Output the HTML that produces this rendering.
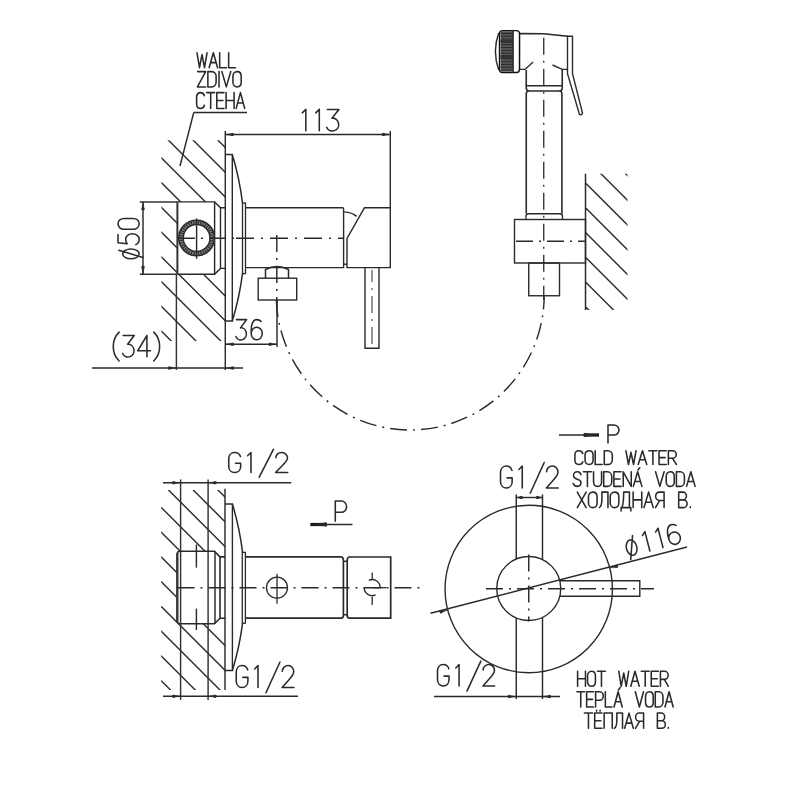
<!DOCTYPE html>
<html><head><meta charset="utf-8"><style>
html,body{margin:0;padding:0;background:#fff;width:800px;height:800px;overflow:hidden}
svg{display:block}
text{font-family:"Liberation Sans", sans-serif}
</style></head><body>
<svg width="800" height="800" viewBox="0 0 800 800" stroke-linecap="butt"><defs><clipPath id="h1"><path clip-rule="evenodd" d="M161.5,140.25 H225.3 V341 H161.5 Z M177.4,201.9 H225.3 V274.2 H177.4 Z"/></clipPath><clipPath id="h2"><rect x="586" y="173.75" width="41.5" height="136.25"/></clipPath><clipPath id="h3"><path clip-rule="evenodd" d="M161.25,490 H225 V690 H161.25 Z M177.3,551.25 H225 V623.8 H177.3 Z"/></clipPath></defs><g clip-path="url(#h1)" stroke="#2a2a2a" stroke-width="1.4"><line x1="150" y1="47.50" x2="240" y2="137.50"/><line x1="150" y1="72.25" x2="240" y2="162.25"/><line x1="150" y1="97.00" x2="240" y2="187.00"/><line x1="150" y1="121.75" x2="240" y2="211.75"/><line x1="150" y1="146.50" x2="240" y2="236.50"/><line x1="150" y1="171.25" x2="240" y2="261.25"/><line x1="150" y1="196.00" x2="240" y2="286.00"/><line x1="150" y1="220.75" x2="240" y2="310.75"/><line x1="150" y1="245.50" x2="240" y2="335.50"/><line x1="150" y1="270.25" x2="240" y2="360.25"/><line x1="150" y1="295.00" x2="240" y2="385.00"/><line x1="150" y1="319.75" x2="240" y2="409.75"/></g>
<g transform="translate(197.00,52.80) scale(1.3185,1.4900)" fill="none" stroke="#2a2a2a" stroke-width="1.55" stroke-linecap="round" stroke-linejoin="round"><path vector-effect="non-scaling-stroke" transform="translate(0.00,0)" d="M0,0 L1.9,10 L3.8,1.2 L5.7,10 L7.6,0"/><path vector-effect="non-scaling-stroke" transform="translate(9.20,0)" d="M0,10 L3.2,0 L6.4,10 M1.1,6.6 H5.3"/><path vector-effect="non-scaling-stroke" transform="translate(17.20,0)" d="M0,0 V10 H5.2"/><path vector-effect="non-scaling-stroke" transform="translate(24.00,0)" d="M0,0 V10 H5.2"/></g>
<g transform="translate(197.40,71.60) scale(1.3774,1.5300)" fill="none" stroke="#2a2a2a" stroke-width="1.55" stroke-linecap="round" stroke-linejoin="round"><path vector-effect="non-scaling-stroke" transform="translate(0.00,0)" d="M0.2,0 H6 L0,10 H6"/><path vector-effect="non-scaling-stroke" transform="translate(7.60,0)" d="M0,0 V10 H2.8 A3.2,3.2 0 0 0 6,6.8 V3.2 A3.2,3.2 0 0 0 2.8,0 Z"/><path vector-effect="non-scaling-stroke" transform="translate(15.20,0)" d="M0.5,0 V10"/><path vector-effect="non-scaling-stroke" transform="translate(17.80,0)" d="M0,0 L3.2,10 L6.4,0"/><path vector-effect="non-scaling-stroke" transform="translate(25.80,0)" d="M0,3 C0,1.3 1.2,0 3,0 C4.8,0 6,1.3 6,3 V7 C6,8.7 4.8,10 3,10 C1.2,10 0,8.7 0,7 Z"/></g>
<g transform="translate(196.60,92.60) scale(1.3287,1.5800)" fill="none" stroke="#2a2a2a" stroke-width="1.55" stroke-linecap="round" stroke-linejoin="round"><path vector-effect="non-scaling-stroke" transform="translate(0.00,0)" d="M5.9,2 C5.5,0.8 4.4,0 3,0 C1.2,0 0,1.3 0,3 V7 C0,8.7 1.2,10 3,10 C4.4,10 5.5,9.2 5.9,8"/><path vector-effect="non-scaling-stroke" transform="translate(7.60,0)" d="M0,0 H6 M3,0 V10"/><path vector-effect="non-scaling-stroke" transform="translate(15.20,0)" d="M5.4,0 H0 V10 H5.4 M0,5 H4.6"/><path vector-effect="non-scaling-stroke" transform="translate(22.20,0)" d="M0,0 V10 M6,0 V10 M0,5 H6"/><path vector-effect="non-scaling-stroke" transform="translate(29.80,0)" d="M0,10 L3.2,0 L6.4,10 M1.1,6.6 H5.3"/></g>
<line x1="193.75" y1="112.50" x2="247.00" y2="112.50" stroke="#2a2a2a" stroke-width="1.45" />
<line x1="193.75" y1="112.50" x2="180.00" y2="166.00" stroke="#2a2a2a" stroke-width="1.45" />
<line x1="225.30" y1="131.00" x2="225.30" y2="370.00" stroke="#2a2a2a" stroke-width="1.45" />
<path d="M225.3,154.5 H232.3 V321 H225.3" stroke="#2a2a2a" stroke-width="1.4" fill="none" />
<path d="M232.3,154.5 A287.9,287.9 0 0 1 242.49,203" stroke="#2a2a2a" stroke-width="1.5" fill="none" />
<path d="M242.49,273.6 A287.9,287.9 0 0 1 232.3,321" stroke="#2a2a2a" stroke-width="1.5" fill="none" />
<rect x="242.50" y="203.00" width="3.00" height="70.60" rx="0" stroke="#2a2a2a" stroke-width="1.3" fill="none"/>
<path d="M245.5,207.8 H342.5 Q343.6,207.8 343.6,209 V267.6 H245.5" stroke="#2a2a2a" stroke-width="1.4" fill="none" />
<path d="M344.2,211.9 Q352,212.5 356.6,216.4" stroke="#2a2a2a" stroke-width="1.45" fill="none" />
<path d="M364.4,207.8 L347,238.4 V267.6 H390.3 V207.8 Z" stroke="#2a2a2a" stroke-width="1.4" fill="none" />
<line x1="343.60" y1="264.20" x2="347.00" y2="264.20" stroke="#2a2a2a" stroke-width="1.45" />
<line x1="390.30" y1="131.00" x2="390.30" y2="207.80" stroke="#2a2a2a" stroke-width="1.45" />
<path d="M365,267.6 V348.25 H379 V267.6" stroke="#2a2a2a" stroke-width="1.4" fill="none" />
<line x1="372.00" y1="270.00" x2="372.00" y2="346.00" stroke="#2a2a2a" stroke-width="1.0" stroke-dasharray="17 6 2 6" stroke-dashoffset="5"/>
<path d="M265.5,278.2 V269.5 Q277,263.5 288.5,269.5 V278.2" stroke="#2a2a2a" stroke-width="1.5" fill="none" />
<rect x="258.20" y="278.20" width="38.50" height="21.80" rx="0" stroke="#2a2a2a" stroke-width="1.4" fill="none"/>
<path d="M177.4,201.9 H214.6 L220.5,207.75 H225.3 M220.5,207.75 V268.4 M177.4,274.2 H214.6 L220.5,268.4 H225.3" stroke="#2a2a2a" stroke-width="1.4" fill="none" />
<line x1="177.40" y1="201.90" x2="177.40" y2="274.20" stroke="#333" stroke-width="2.0" />
<line x1="214.60" y1="201.90" x2="214.60" y2="274.20" stroke="#2a2a2a" stroke-width="1.45" />
<circle cx="196.60" cy="238.00" r="15.60" stroke="#8a8a8a" stroke-width="3.6" fill="none" />
<circle cx="196.60" cy="238.00" r="15.60" stroke="#333" stroke-width="3.6" fill="none" stroke-dasharray="1.3 1.1"/>
<circle cx="196.60" cy="238.00" r="17.80" stroke="#2a2a2a" stroke-width="1.6" fill="none" />
<circle cx="196.60" cy="238.00" r="13.40" stroke="#2a2a2a" stroke-width="1.5" fill="none" />
<line x1="196.60" y1="218.40" x2="196.60" y2="258.80" stroke="#2a2a2a" stroke-width="1.45" />
<line x1="236.00" y1="238.30" x2="344.00" y2="238.30" stroke="#2a2a2a" stroke-width="1.45" stroke-dasharray="18 7 2 7"/>
<line x1="178.00" y1="238.30" x2="236.00" y2="238.30" stroke="#2a2a2a" stroke-width="1.45" stroke-dasharray="17 6 2 6" stroke-dashoffset="0"/>
<line x1="276.80" y1="235.00" x2="276.80" y2="305.00" stroke="#2a2a2a" stroke-width="1.45" stroke-dasharray="17 6 2 6" stroke-dashoffset="0"/>
<line x1="139.75" y1="201.90" x2="177.40" y2="201.90" stroke="#333" stroke-width="1.45" />
<line x1="139.75" y1="274.20" x2="177.40" y2="274.20" stroke="#333" stroke-width="1.45" />
<line x1="143.00" y1="201.90" x2="143.00" y2="274.20" stroke="#2a2a2a" stroke-width="1.45" />
<path d="M143.00,201.90 L144.30,209.90 L141.70,209.90 Z" fill="#2a2a2a" stroke="#2a2a2a" stroke-width="0.4"/>
<circle cx="143.00" cy="208.70" r="1.5" fill="#2a2a2a"/>
<path d="M143.00,274.20 L141.70,266.20 L144.30,266.20 Z" fill="#2a2a2a" stroke="#2a2a2a" stroke-width="0.4"/>
<circle cx="143.00" cy="267.40" r="1.5" fill="#2a2a2a"/>
<g transform="rotate(-90.00 139.20 258.80) translate(139.20,237.60) scale(1.8198,2.1200)" fill="none" stroke="#2a2a2a" stroke-width="1.55" stroke-linecap="round" stroke-linejoin="round"><path vector-effect="non-scaling-stroke" transform="translate(0.00,0)" d="M2.7,2.2 A2.7,3.9 0 1 0 2.7,10 A2.7,3.9 0 1 0 2.7,2.2 M4.7,0.4 L0.7,11.8"/><path vector-effect="non-scaling-stroke" transform="translate(7.80,0)" d="M5.6,0 H1 L0.5,4.4 C1.2,3.8 2,3.6 3,3.6 A3,3.2 0 0 1 3,10 C1.6,10 0.6,9.4 0,8.4"/><path vector-effect="non-scaling-stroke" transform="translate(16.20,0)" d="M0,3 C0,1.3 1.2,0 3,0 C4.8,0 6,1.3 6,3 V7 C6,8.7 4.8,10 3,10 C1.2,10 0,8.7 0,7 Z"/></g>
<line x1="225.30" y1="134.50" x2="390.30" y2="134.50" stroke="#2a2a2a" stroke-width="1.45" />
<path d="M225.30,134.50 L233.30,133.20 L233.30,135.80 Z" fill="#2a2a2a" stroke="#2a2a2a" stroke-width="0.4"/>
<circle cx="232.10" cy="134.50" r="1.5" fill="#2a2a2a"/>
<path d="M390.30,134.50 L382.30,135.80 L382.30,133.20 Z" fill="#2a2a2a" stroke="#2a2a2a" stroke-width="0.4"/>
<circle cx="383.50" cy="134.50" r="1.5" fill="#2a2a2a"/>
<g transform="translate(299.50,109.40) scale(2.1064,2.1350)" fill="none" stroke="#2a2a2a" stroke-width="1.55" stroke-linecap="round" stroke-linejoin="round"><path vector-effect="non-scaling-stroke" transform="translate(0.00,0)" d="M1.3,1.6 L3,0 V10"/><path vector-effect="non-scaling-stroke" transform="translate(6.40,0)" d="M1.3,1.6 L3,0 V10"/><path vector-effect="non-scaling-stroke" transform="translate(12.80,0)" d="M0.4,0 H5.9 L2.6,4.1 A3,3 0 1 1 0.1,8.4"/></g>
<line x1="225.50" y1="344.20" x2="277.00" y2="344.20" stroke="#2a2a2a" stroke-width="1.45" />
<path d="M225.50,344.20 L233.50,342.90 L233.50,345.50 Z" fill="#2a2a2a" stroke="#2a2a2a" stroke-width="0.4"/>
<circle cx="232.30" cy="344.20" r="1.5" fill="#2a2a2a"/>
<path d="M277.00,344.20 L269.00,345.50 L269.00,342.90 Z" fill="#2a2a2a" stroke="#2a2a2a" stroke-width="0.4"/>
<circle cx="270.20" cy="344.20" r="1.5" fill="#2a2a2a"/>
<line x1="277.00" y1="300.00" x2="277.00" y2="347.00" stroke="#2a2a2a" stroke-width="1.45" />
<g transform="translate(235.70,319.60) scale(1.8438,2.0150)" fill="none" stroke="#2a2a2a" stroke-width="1.55" stroke-linecap="round" stroke-linejoin="round"><path vector-effect="non-scaling-stroke" transform="translate(0.00,0)" d="M0.4,0 H5.9 L2.6,4.1 A3,3 0 1 1 0.1,8.4"/><path vector-effect="non-scaling-stroke" transform="translate(8.40,0)" d="M5.4,0.9 C4.8,0.3 4,0 3,0 C1,0 0,2.2 0,5.5 V6.9 A3,3.1 0 0 0 6,6.9 A3,3.1 0 0 0 0,6.9"/></g>
<line x1="92.00" y1="368.00" x2="243.00" y2="368.00" stroke="#2a2a2a" stroke-width="1.45" />
<path d="M176.40,368.00 L168.40,369.30 L168.40,366.70 Z" fill="#2a2a2a" stroke="#2a2a2a" stroke-width="0.4"/>
<circle cx="169.60" cy="368.00" r="1.5" fill="#2a2a2a"/>
<path d="M225.60,368.00 L233.60,366.70 L233.60,369.30 Z" fill="#2a2a2a" stroke="#2a2a2a" stroke-width="0.4"/>
<circle cx="232.40" cy="368.00" r="1.5" fill="#2a2a2a"/>
<line x1="176.40" y1="274.20" x2="176.40" y2="370.00" stroke="#333" stroke-width="1.45" />
<g transform="translate(113.10,335.50) scale(2.0129,2.1250)" fill="none" stroke="#2a2a2a" stroke-width="1.55" stroke-linecap="round" stroke-linejoin="round"><path vector-effect="non-scaling-stroke" transform="translate(0.00,0)" d="M3,-1.6 C-0.9,2 -0.9,8.4 3,12"/><path vector-effect="non-scaling-stroke" transform="translate(4.60,0)" d="M0.4,0 H5.9 L2.6,4.1 A3,3 0 1 1 0.1,8.4"/><path vector-effect="non-scaling-stroke" transform="translate(12.20,0)" d="M4.6,10 V0 L0,7.2 H6.4"/><path vector-effect="non-scaling-stroke" transform="translate(20.20,0)" d="M0,-1.6 C3.9,2 3.9,8.4 0,12"/></g>
<path d="M276.3,300 A134,135 0 0 0 544.2,296.5" stroke="#2a2a2a" stroke-width="1.4" fill="none" stroke-dasharray="17 6 2 6"/>
<g clip-path="url(#h2)" stroke="#2a2a2a" stroke-width="1.4"><line x1="570" y1="93.25" x2="640" y2="163.25"/><line x1="570" y1="118.00" x2="640" y2="188.00"/><line x1="570" y1="142.75" x2="640" y2="212.75"/><line x1="570" y1="167.50" x2="640" y2="237.50"/><line x1="570" y1="192.25" x2="640" y2="262.25"/><line x1="570" y1="217.00" x2="640" y2="287.00"/><line x1="570" y1="241.75" x2="640" y2="311.75"/><line x1="570" y1="266.50" x2="640" y2="336.50"/><line x1="570" y1="291.25" x2="640" y2="361.25"/></g>
<line x1="585.50" y1="173.75" x2="585.50" y2="310.00" stroke="#2a2a2a" stroke-width="1.5" />
<rect x="514.50" y="219.50" width="71.00" height="43.50" rx="0" stroke="#2a2a2a" stroke-width="1.4" fill="none"/>
<line x1="516.00" y1="241.25" x2="585.00" y2="241.25" stroke="#2a2a2a" stroke-width="1.45" stroke-dasharray="17 6 2 6" stroke-dashoffset="0"/>
<rect x="528.75" y="263.00" width="30.75" height="32.75" rx="0" stroke="#2a2a2a" stroke-width="1.4" fill="none"/>
<path d="M526.25,94 Q526.25,91.2 528.6,91 M526.25,94 V213.75 M561.9,94 Q561.9,91.2 559.6,91 M561.9,94 V213.75" stroke="#2a2a2a" stroke-width="1.6" fill="none" />
<path d="M526,219.5 V216 Q526,213.75 529,213.75 H559.5 Q562.5,213.75 562.5,216 V219.5" stroke="#2a2a2a" stroke-width="1.3" fill="none" />
<path d="M526.25,85.75 H562.25 V88 Q562.25,91 559,91 H529.5 Q526.25,91 526.25,88 Z" stroke="#2a2a2a" stroke-width="1.6" fill="none" />
<path d="M526.25,70 V85.75 M562.25,69.4 V85.75" stroke="#2a2a2a" stroke-width="1.6" fill="none" />
<path d="M519.4,33.5 L543.75,33.8 L567.5,36.25 V69.4 H562.25 L552.5,65 M519.4,33.5 V69.4 H525 L533.1,61.9" stroke="#2a2a2a" stroke-width="1.4" fill="none" />
<rect x="499.5" y="30.6" width="20" height="41.9" rx="3" fill="#fff" stroke="#111" stroke-width="1.4"/>
<rect x="500.6" y="31.6" width="12.5" height="40" fill="#777"/>
<g stroke="#222" stroke-width="0.9"><line x1="500.6" y1="32.00" x2="513.1" y2="32.00"/><line x1="500.6" y1="33.55" x2="513.1" y2="33.55"/><line x1="500.6" y1="35.10" x2="513.1" y2="35.10"/><line x1="500.6" y1="36.65" x2="513.1" y2="36.65"/><line x1="500.6" y1="38.20" x2="513.1" y2="38.20"/><line x1="500.6" y1="39.75" x2="513.1" y2="39.75"/><line x1="500.6" y1="41.30" x2="513.1" y2="41.30"/><line x1="500.6" y1="42.85" x2="513.1" y2="42.85"/><line x1="500.6" y1="44.40" x2="513.1" y2="44.40"/><line x1="500.6" y1="45.95" x2="513.1" y2="45.95"/><line x1="500.6" y1="47.50" x2="513.1" y2="47.50"/><line x1="500.6" y1="49.05" x2="513.1" y2="49.05"/><line x1="500.6" y1="50.60" x2="513.1" y2="50.60"/><line x1="500.6" y1="52.15" x2="513.1" y2="52.15"/><line x1="500.6" y1="53.70" x2="513.1" y2="53.70"/><line x1="500.6" y1="55.25" x2="513.1" y2="55.25"/><line x1="500.6" y1="56.80" x2="513.1" y2="56.80"/><line x1="500.6" y1="58.35" x2="513.1" y2="58.35"/><line x1="500.6" y1="59.90" x2="513.1" y2="59.90"/><line x1="500.6" y1="61.45" x2="513.1" y2="61.45"/><line x1="500.6" y1="63.00" x2="513.1" y2="63.00"/><line x1="500.6" y1="64.55" x2="513.1" y2="64.55"/><line x1="500.6" y1="66.10" x2="513.1" y2="66.10"/><line x1="500.6" y1="67.65" x2="513.1" y2="67.65"/><line x1="500.6" y1="69.20" x2="513.1" y2="69.20"/><line x1="500.6" y1="70.75" x2="513.1" y2="70.75"/></g>
<rect x="500.6" y="40" width="12.5" height="3" fill="#333"/><rect x="500.6" y="55" width="12.5" height="4" fill="#333"/>
<line x1="513.10" y1="30.60" x2="513.10" y2="72.50" stroke="#2a2a2a" stroke-width="1.45" />
<path d="M498.75,33 Q492,51.25 498.75,70" stroke="#2a2a2a" stroke-width="1.45" fill="none" />
<path d="M567.5,36.25 H572.5 V73.75 L582.5,113 Q582,115.5 579.5,114.4 L567.5,73.75 V69.4" stroke="#2a2a2a" stroke-width="1.4" fill="none" />
<line x1="543.75" y1="37.70" x2="543.75" y2="300.00" stroke="#2a2a2a" stroke-width="1.3" stroke-dasharray="17 6 2 6" stroke-dashoffset="0"/>
<g clip-path="url(#h3)" stroke="#2a2a2a" stroke-width="1.4"><line x1="150" y1="397.25" x2="240" y2="487.25"/><line x1="150" y1="422.00" x2="240" y2="512.00"/><line x1="150" y1="446.75" x2="240" y2="536.75"/><line x1="150" y1="471.50" x2="240" y2="561.50"/><line x1="150" y1="496.25" x2="240" y2="586.25"/><line x1="150" y1="521.00" x2="240" y2="611.00"/><line x1="150" y1="545.75" x2="240" y2="635.75"/><line x1="150" y1="570.50" x2="240" y2="660.50"/><line x1="150" y1="595.25" x2="240" y2="685.25"/><line x1="150" y1="620.00" x2="240" y2="710.00"/><line x1="150" y1="644.75" x2="240" y2="734.75"/><line x1="150" y1="669.50" x2="240" y2="759.50"/><line x1="150" y1="694.25" x2="240" y2="784.25"/></g>
<line x1="225.00" y1="488.75" x2="225.00" y2="690.00" stroke="#2a2a2a" stroke-width="1.45" />
<line x1="180.60" y1="479.40" x2="180.60" y2="700.00" stroke="#333" stroke-width="1.45" />
<line x1="208.10" y1="479.40" x2="208.10" y2="700.00" stroke="#333" stroke-width="1.45" />
<line x1="163.00" y1="482.75" x2="291.25" y2="482.75" stroke="#2a2a2a" stroke-width="1.45" />
<path d="M180.60,482.75 L172.60,484.05 L172.60,481.45 Z" fill="#2a2a2a" stroke="#2a2a2a" stroke-width="0.4"/>
<circle cx="173.80" cy="482.75" r="1.5" fill="#2a2a2a"/>
<path d="M208.10,482.75 L216.10,481.45 L216.10,484.05 Z" fill="#2a2a2a" stroke="#2a2a2a" stroke-width="0.4"/>
<circle cx="214.90" cy="482.75" r="1.5" fill="#2a2a2a"/>
<g transform="translate(228.75,452.50) scale(1.9848,2.0000)" fill="none" stroke="#2a2a2a" stroke-width="1.55" stroke-linecap="round" stroke-linejoin="round"><path vector-effect="non-scaling-stroke" transform="translate(0.00,0)" d="M5.9,2 C5.5,0.8 4.4,0 3,0 C1.2,0 0,1.3 0,3 V7 C0,8.7 1.2,10 3,10 C4.8,10 6,8.7 6,7 V5.4 H3.4"/><path vector-effect="non-scaling-stroke" transform="translate(8.20,0)" d="M1.3,1.6 L3,0 V10"/><path vector-effect="non-scaling-stroke" transform="translate(14.40,0)" d="M0.9,12.4 L8.1,-1.6"/><path vector-effect="non-scaling-stroke" transform="translate(23.60,0)" d="M0.1,2.6 A2.95,2.7 0 0 1 6,2.8 C6,4.6 4.2,5.6 0,10 H6.1"/></g>
<line x1="163.00" y1="696.25" x2="298.00" y2="696.25" stroke="#2a2a2a" stroke-width="1.45" />
<path d="M180.60,696.25 L172.60,697.55 L172.60,694.95 Z" fill="#2a2a2a" stroke="#2a2a2a" stroke-width="0.4"/>
<circle cx="173.80" cy="696.25" r="1.5" fill="#2a2a2a"/>
<path d="M208.10,696.25 L216.10,694.95 L216.10,697.55 Z" fill="#2a2a2a" stroke="#2a2a2a" stroke-width="0.4"/>
<circle cx="214.90" cy="696.25" r="1.5" fill="#2a2a2a"/>
<g transform="translate(236.25,665.50) scale(1.9426,2.2000)" fill="none" stroke="#2a2a2a" stroke-width="1.55" stroke-linecap="round" stroke-linejoin="round"><path vector-effect="non-scaling-stroke" transform="translate(0.00,0)" d="M5.9,2 C5.5,0.8 4.4,0 3,0 C1.2,0 0,1.3 0,3 V7 C0,8.7 1.2,10 3,10 C4.8,10 6,8.7 6,7 V5.4 H3.4"/><path vector-effect="non-scaling-stroke" transform="translate(8.20,0)" d="M1.3,1.6 L3,0 V10"/><path vector-effect="non-scaling-stroke" transform="translate(14.40,0)" d="M0.9,12.4 L8.1,-1.6"/><path vector-effect="non-scaling-stroke" transform="translate(23.60,0)" d="M0.1,2.6 A2.95,2.7 0 0 1 6,2.8 C6,4.6 4.2,5.6 0,10 H6.1"/></g>
<path d="M225,556.9 H220 L214.4,551.25 H179.8 Q177.3,551.25 177.3,553.8 V621.3 Q177.3,623.8 179.8,623.8 H214.4 L220,618.2 H225 M220,556.9 V618.2" stroke="#2a2a2a" stroke-width="1.6" fill="none" />
<line x1="177.30" y1="553.00" x2="177.30" y2="622.00" stroke="#333" stroke-width="2.2" />
<line x1="215.00" y1="551.25" x2="215.00" y2="623.80" stroke="#2a2a2a" stroke-width="1.45" />
<line x1="196.40" y1="544.50" x2="196.40" y2="567.60" stroke="#2a2a2a" stroke-width="1.45" />
<line x1="196.40" y1="608.60" x2="196.40" y2="630.00" stroke="#2a2a2a" stroke-width="1.45" />
<path d="M225,504 H232.4 V670.5 H225" stroke="#2a2a2a" stroke-width="1.4" fill="none" />
<path d="M232.4,504 A287.9,287.9 0 0 1 242.58,552.4" stroke="#2a2a2a" stroke-width="1.5" fill="none" />
<path d="M242.58,623.2 A287.9,287.9 0 0 1 232.4,670.5" stroke="#2a2a2a" stroke-width="1.5" fill="none" />
<rect x="242.30" y="552.40" width="3.10" height="70.80" rx="0" stroke="#2a2a2a" stroke-width="1.3" fill="none"/>
<path d="M245.4,556.9 H341.2 Q343.4,557 343.4,561.25 V614.7 Q343.4,618.2 341.2,618.2 H245.4" stroke="#2a2a2a" stroke-width="1.7" fill="none" />
<path d="M343.4,561.25 H347.2 M343.4,614.7 H347.2" stroke="#2a2a2a" stroke-width="1.5" fill="none" />
<path d="M390.7,557 H349.4 Q347.2,557 347.2,561.25 V614.7 Q347.2,618.2 349.4,618.2 H390.7 Z" stroke="#2a2a2a" stroke-width="1.7" fill="none" />
<circle cx="277.00" cy="587.70" r="10.50" stroke="#2a2a2a" stroke-width="1.3" fill="none" />
<line x1="277.00" y1="573.75" x2="277.00" y2="603.75" stroke="#2a2a2a" stroke-width="1.3" />
<path d="M368.8,580.4 A8,8 0 0 1 380.2,587.2" stroke="#2a2a2a" stroke-width="1.4" fill="none" />
<path d="M364.2,587.7 A8,8 0 0 0 375.5,594.9" stroke="#2a2a2a" stroke-width="1.4" fill="none" />
<line x1="372.20" y1="572.50" x2="372.20" y2="579.80" stroke="#2a2a2a" stroke-width="1.3" />
<line x1="372.20" y1="596.70" x2="372.20" y2="605.10" stroke="#2a2a2a" stroke-width="1.3" />
<line x1="373.00" y1="587.70" x2="386.00" y2="587.70" stroke="#2a2a2a" stroke-width="1.3" />
<line x1="177.50" y1="587.70" x2="420.00" y2="587.70" stroke="#2a2a2a" stroke-width="1.45" stroke-dasharray="17 6 2 6" stroke-dashoffset="0"/>
<line x1="310.50" y1="524.50" x2="352.50" y2="524.50" stroke="#2a2a2a" stroke-width="1.45" />
<line x1="310.50" y1="524.50" x2="326.50" y2="524.50" stroke="#111" stroke-width="3.2" />
<path d="M310.50,524.50 L326.50,522.80 L326.50,526.20 Z" fill="#2a2a2a" stroke="#2a2a2a" stroke-width="0.4"/>
<circle cx="325.30" cy="524.50" r="1.9" fill="#2a2a2a"/>
<g transform="translate(335.30,501.00) scale(1.8833,2.0250)" fill="none" stroke="#2a2a2a" stroke-width="1.55" stroke-linecap="round" stroke-linejoin="round"><path vector-effect="non-scaling-stroke" transform="translate(0.00,0)" d="M0,10 V0 H3.2 A2.8,2.8 0 0 1 3.2,5.6 H0"/></g>
<circle cx="528.75" cy="589.00" r="83.70" stroke="#2a2a2a" stroke-width="1.4" fill="none" />
<circle cx="528.75" cy="588.50" r="32.00" stroke="#2a2a2a" stroke-width="1.4" fill="none" />
<line x1="516.25" y1="494.50" x2="516.25" y2="559.04" stroke="#2a2a2a" stroke-width="1.45" />
<line x1="516.25" y1="617.96" x2="516.25" y2="699.00" stroke="#2a2a2a" stroke-width="1.45" />
<line x1="542.50" y1="494.50" x2="542.50" y2="559.60" stroke="#2a2a2a" stroke-width="1.45" />
<line x1="542.50" y1="617.40" x2="542.50" y2="699.00" stroke="#2a2a2a" stroke-width="1.45" />
<path d="M559.80,580.75 H639.8 V596.25 H559.80" stroke="#2a2a2a" stroke-width="1.4" fill="none" />
<line x1="486.00" y1="588.75" x2="654.00" y2="588.75" stroke="#2a2a2a" stroke-width="1.45" stroke-dasharray="17 6 2 6" stroke-dashoffset="0"/>
<line x1="528.75" y1="554.50" x2="528.75" y2="621.25" stroke="#2a2a2a" stroke-width="1.45" stroke-dasharray="17 6 2 6" stroke-dashoffset="0"/>
<line x1="430.50" y1="613.25" x2="687.00" y2="547.00" stroke="#2a2a2a" stroke-width="1.45" />
<path d="M609.79,568.07 L617.21,564.81 L617.86,567.33 Z" fill="#2a2a2a" stroke="#2a2a2a" stroke-width="0.4"/>
<circle cx="616.37" cy="566.37" r="1.5" fill="#2a2a2a"/>
<path d="M447.71,609.93 L440.29,613.19 L439.64,610.67 Z" fill="#2a2a2a" stroke="#2a2a2a" stroke-width="0.4"/>
<circle cx="441.13" cy="611.63" r="1.5" fill="#2a2a2a"/>
<g transform="rotate(-14.48 628.50 556.50) translate(628.50,536.50) scale(1.9366,2.0000)" fill="none" stroke="#2a2a2a" stroke-width="1.55" stroke-linecap="round" stroke-linejoin="round"><path vector-effect="non-scaling-stroke" transform="translate(0.00,0)" d="M2.7,2.2 A2.7,3.9 0 1 0 2.7,10 A2.7,3.9 0 1 0 2.7,2.2 M4.7,0.4 L0.7,11.8"/><path vector-effect="non-scaling-stroke" transform="translate(8.40,0)" d="M1.3,1.6 L3,0 V10"/><path vector-effect="non-scaling-stroke" transform="translate(15.40,0)" d="M1.3,1.6 L3,0 V10"/><path vector-effect="non-scaling-stroke" transform="translate(22.40,0)" d="M5.4,0.9 C4.8,0.3 4,0 3,0 C1,0 0,2.2 0,5.5 V6.9 A3,3.1 0 0 0 6,6.9 A3,3.1 0 0 0 0,6.9"/></g>
<line x1="516.25" y1="497.50" x2="542.50" y2="497.50" stroke="#2a2a2a" stroke-width="1.45" />
<path d="M516.25,497.50 L522.25,496.30 L522.25,498.70 Z" fill="#2a2a2a" stroke="#2a2a2a" stroke-width="0.4"/>
<circle cx="521.05" cy="497.50" r="1.5" fill="#2a2a2a"/>
<path d="M542.50,497.50 L536.50,498.70 L536.50,496.30 Z" fill="#2a2a2a" stroke="#2a2a2a" stroke-width="0.4"/>
<circle cx="537.70" cy="497.50" r="1.5" fill="#2a2a2a"/>
<g transform="translate(500.50,466.00) scale(1.9426,2.2000)" fill="none" stroke="#2a2a2a" stroke-width="1.55" stroke-linecap="round" stroke-linejoin="round"><path vector-effect="non-scaling-stroke" transform="translate(0.00,0)" d="M5.9,2 C5.5,0.8 4.4,0 3,0 C1.2,0 0,1.3 0,3 V7 C0,8.7 1.2,10 3,10 C4.8,10 6,8.7 6,7 V5.4 H3.4"/><path vector-effect="non-scaling-stroke" transform="translate(8.20,0)" d="M1.3,1.6 L3,0 V10"/><path vector-effect="non-scaling-stroke" transform="translate(14.40,0)" d="M0.9,12.4 L8.1,-1.6"/><path vector-effect="non-scaling-stroke" transform="translate(23.60,0)" d="M0.1,2.6 A2.95,2.7 0 0 1 6,2.8 C6,4.6 4.2,5.6 0,10 H6.1"/></g>
<line x1="434.00" y1="696.50" x2="560.00" y2="696.50" stroke="#2a2a2a" stroke-width="1.45" />
<path d="M516.25,696.50 L508.25,697.80 L508.25,695.20 Z" fill="#2a2a2a" stroke="#2a2a2a" stroke-width="0.4"/>
<circle cx="509.45" cy="696.50" r="1.5" fill="#2a2a2a"/>
<path d="M542.50,696.50 L550.50,695.20 L550.50,697.80 Z" fill="#2a2a2a" stroke="#2a2a2a" stroke-width="0.4"/>
<circle cx="549.30" cy="696.50" r="1.5" fill="#2a2a2a"/>
<g transform="translate(437.50,664.50) scale(1.9257,2.1500)" fill="none" stroke="#2a2a2a" stroke-width="1.55" stroke-linecap="round" stroke-linejoin="round"><path vector-effect="non-scaling-stroke" transform="translate(0.00,0)" d="M5.9,2 C5.5,0.8 4.4,0 3,0 C1.2,0 0,1.3 0,3 V7 C0,8.7 1.2,10 3,10 C4.8,10 6,8.7 6,7 V5.4 H3.4"/><path vector-effect="non-scaling-stroke" transform="translate(8.20,0)" d="M1.3,1.6 L3,0 V10"/><path vector-effect="non-scaling-stroke" transform="translate(14.40,0)" d="M0.9,12.4 L8.1,-1.6"/><path vector-effect="non-scaling-stroke" transform="translate(23.60,0)" d="M0.1,2.6 A2.95,2.7 0 0 1 6,2.8 C6,4.6 4.2,5.6 0,10 H6.1"/></g>
<line x1="559.00" y1="435.00" x2="599.00" y2="435.00" stroke="#2a2a2a" stroke-width="1.45" />
<line x1="584.00" y1="435.00" x2="599.00" y2="435.00" stroke="#111" stroke-width="3.2" />
<path d="M599.00,435.00 L584.00,436.70 L584.00,433.30 Z" fill="#2a2a2a" stroke="#2a2a2a" stroke-width="0.4"/>
<circle cx="585.20" cy="435.00" r="1.9" fill="#2a2a2a"/>
<g transform="translate(608.00,425.00) scale(1.8333,1.8000)" fill="none" stroke="#2a2a2a" stroke-width="1.55" stroke-linecap="round" stroke-linejoin="round"><path vector-effect="non-scaling-stroke" transform="translate(0.00,0)" d="M0,10 V0 H3.2 A2.8,2.8 0 0 1 3.2,5.6 H0"/></g>
<g transform="translate(574.90,450.70) scale(1.3355,1.3800)" fill="none" stroke="#2a2a2a" stroke-width="1.55" stroke-linecap="round" stroke-linejoin="round"><path vector-effect="non-scaling-stroke" transform="translate(0.00,0)" d="M5.9,2 C5.5,0.8 4.4,0 3,0 C1.2,0 0,1.3 0,3 V7 C0,8.7 1.2,10 3,10 C4.4,10 5.5,9.2 5.9,8"/><path vector-effect="non-scaling-stroke" transform="translate(7.60,0)" d="M0,3 C0,1.3 1.2,0 3,0 C4.8,0 6,1.3 6,3 V7 C6,8.7 4.8,10 3,10 C1.2,10 0,8.7 0,7 Z"/><path vector-effect="non-scaling-stroke" transform="translate(15.20,0)" d="M0,0 V10 H5.2"/><path vector-effect="non-scaling-stroke" transform="translate(22.00,0)" d="M0,0 V10 H2.8 A3.2,3.2 0 0 0 6,6.8 V3.2 A3.2,3.2 0 0 0 2.8,0 Z"/><path vector-effect="non-scaling-stroke" transform="translate(38.20,0)" d="M0,0 L1.9,10 L3.8,1.2 L5.7,10 L7.6,0"/><path vector-effect="non-scaling-stroke" transform="translate(47.40,0)" d="M0,10 L3.2,0 L6.4,10 M1.1,6.6 H5.3"/><path vector-effect="non-scaling-stroke" transform="translate(55.40,0)" d="M0,0 H6 M3,0 V10"/><path vector-effect="non-scaling-stroke" transform="translate(63.00,0)" d="M5.4,0 H0 V10 H5.4 M0,5 H4.6"/><path vector-effect="non-scaling-stroke" transform="translate(70.00,0)" d="M0,10 V0 H3.2 A2.7,2.7 0 0 1 3.2,5.4 H0 M3,5.4 L6,10"/></g>
<g transform="translate(573.25,471.80) scale(1.3361,1.4600)" fill="none" stroke="#2a2a2a" stroke-width="1.55" stroke-linecap="round" stroke-linejoin="round"><path vector-effect="non-scaling-stroke" transform="translate(0.00,0)" d="M5.8,2 C5.4,0.8 4.4,0 3,0 C1.3,0 0.2,1 0.2,2.6 C0.2,6 5.8,4.2 5.8,7.4 C5.8,9 4.6,10 3,10 C1.4,10 0.4,9.2 0,8"/><path vector-effect="non-scaling-stroke" transform="translate(7.60,0)" d="M0,0 H6 M3,0 V10"/><path vector-effect="non-scaling-stroke" transform="translate(15.20,0)" d="M0,0 V7 C0,8.7 1.2,10 3,10 C4.8,10 6,8.7 6,7 V0"/><path vector-effect="non-scaling-stroke" transform="translate(22.80,0)" d="M0,0 V10 H2.8 A3.2,3.2 0 0 0 6,6.8 V3.2 A3.2,3.2 0 0 0 2.8,0 Z"/><path vector-effect="non-scaling-stroke" transform="translate(30.40,0)" d="M5.4,0 H0 V10 H5.4 M0,5 H4.6"/><path vector-effect="non-scaling-stroke" transform="translate(37.40,0)" d="M0,10 V0 L6,10 V0"/><path vector-effect="non-scaling-stroke" transform="translate(45.00,0)" d="M0,10 L3.2,0 L6.4,10 M1.1,6.6 H5.3 M3.4,-1.2 L4.8,-2.8"/><path vector-effect="non-scaling-stroke" transform="translate(61.60,0)" d="M0,0 L3.2,10 L6.4,0"/><path vector-effect="non-scaling-stroke" transform="translate(69.60,0)" d="M0,3 C0,1.3 1.2,0 3,0 C4.8,0 6,1.3 6,3 V7 C6,8.7 4.8,10 3,10 C1.2,10 0,8.7 0,7 Z"/><path vector-effect="non-scaling-stroke" transform="translate(77.20,0)" d="M0,0 V10 H2.8 A3.2,3.2 0 0 0 6,6.8 V3.2 A3.2,3.2 0 0 0 2.8,0 Z"/><path vector-effect="non-scaling-stroke" transform="translate(84.80,0)" d="M0,10 L3.2,0 L6.4,10 M1.1,6.6 H5.3"/></g>
<g transform="translate(577.30,492.10) scale(1.4320,1.5500)" fill="none" stroke="#2a2a2a" stroke-width="1.55" stroke-linecap="round" stroke-linejoin="round"><path vector-effect="non-scaling-stroke" transform="translate(0.00,0)" d="M0,0 L6.2,10 M6.2,0 L0,10"/><path vector-effect="non-scaling-stroke" transform="translate(7.80,0)" d="M0,3 C0,1.3 1.2,0 3,0 C4.8,0 6,1.3 6,3 V7 C6,8.7 4.8,10 3,10 C1.2,10 0,8.7 0,7 Z"/><path vector-effect="non-scaling-stroke" transform="translate(15.40,0)" d="M0,10 C1.2,9.5 1.8,7 1.8,4 V0 H6 V10"/><path vector-effect="non-scaling-stroke" transform="translate(23.00,0)" d="M0,3 C0,1.3 1.2,0 3,0 C4.8,0 6,1.3 6,3 V7 C6,8.7 4.8,10 3,10 C1.2,10 0,8.7 0,7 Z"/><path vector-effect="non-scaling-stroke" transform="translate(30.60,0)" d="M0,12.2 V10 H6.8 V12.2 M0.6,10 C1.4,8 1.8,5 1.8,0 H5.8 V10"/><path vector-effect="non-scaling-stroke" transform="translate(39.00,0)" d="M0,0 V10 M6,0 V10 M0,5 H6"/><path vector-effect="non-scaling-stroke" transform="translate(46.60,0)" d="M0,10 L3.2,0 L6.4,10 M1.1,6.6 H5.3"/><path vector-effect="non-scaling-stroke" transform="translate(54.60,0)" d="M6,10 V0 H2.8 A2.7,2.7 0 0 0 2.8,5.4 H6 M3,5.4 L0,10"/><path vector-effect="non-scaling-stroke" transform="translate(70.80,0)" d="M0,0 V10 H3.3 A2.6,2.5 0 0 0 3.3,5 H0 M0,5 H3 A2.4,2.5 0 0 0 3,0 H0"/><path vector-effect="non-scaling-stroke" transform="translate(78.40,0)" d="M0.5,9.5 L0.5,10"/></g>
<g transform="translate(577.60,671.20) scale(1.3107,1.5100)" fill="none" stroke="#2a2a2a" stroke-width="1.55" stroke-linecap="round" stroke-linejoin="round"><path vector-effect="non-scaling-stroke" transform="translate(0.00,0)" d="M0,0 V10 M6,0 V10 M0,5 H6"/><path vector-effect="non-scaling-stroke" transform="translate(7.60,0)" d="M0,3 C0,1.3 1.2,0 3,0 C4.8,0 6,1.3 6,3 V7 C6,8.7 4.8,10 3,10 C1.2,10 0,8.7 0,7 Z"/><path vector-effect="non-scaling-stroke" transform="translate(15.20,0)" d="M0,0 H6 M3,0 V10"/><path vector-effect="non-scaling-stroke" transform="translate(31.40,0)" d="M0,0 L1.9,10 L3.8,1.2 L5.7,10 L7.6,0"/><path vector-effect="non-scaling-stroke" transform="translate(40.60,0)" d="M0,10 L3.2,0 L6.4,10 M1.1,6.6 H5.3"/><path vector-effect="non-scaling-stroke" transform="translate(48.60,0)" d="M0,0 H6 M3,0 V10"/><path vector-effect="non-scaling-stroke" transform="translate(56.20,0)" d="M5.4,0 H0 V10 H5.4 M0,5 H4.6"/><path vector-effect="non-scaling-stroke" transform="translate(63.20,0)" d="M0,10 V0 H3.2 A2.7,2.7 0 0 1 3.2,5.4 H0 M3,5.4 L6,10"/></g>
<g transform="translate(576.90,691.80) scale(1.2806,1.5200)" fill="none" stroke="#2a2a2a" stroke-width="1.55" stroke-linecap="round" stroke-linejoin="round"><path vector-effect="non-scaling-stroke" transform="translate(0.00,0)" d="M0,0 H6 M3,0 V10"/><path vector-effect="non-scaling-stroke" transform="translate(7.60,0)" d="M5.4,0 H0 V10 H5.4 M0,5 H4.6"/><path vector-effect="non-scaling-stroke" transform="translate(14.60,0)" d="M0,10 V0 H3.2 A2.8,2.8 0 0 1 3.2,5.6 H0"/><path vector-effect="non-scaling-stroke" transform="translate(22.20,0)" d="M0,0 V10 H5.2"/><path vector-effect="non-scaling-stroke" transform="translate(29.00,0)" d="M0,10 L3.2,0 L6.4,10 M1.1,6.6 H5.3 M3.4,-1.2 L4.8,-2.8"/><path vector-effect="non-scaling-stroke" transform="translate(45.60,0)" d="M0,0 L3.2,10 L6.4,0"/><path vector-effect="non-scaling-stroke" transform="translate(53.60,0)" d="M0,3 C0,1.3 1.2,0 3,0 C4.8,0 6,1.3 6,3 V7 C6,8.7 4.8,10 3,10 C1.2,10 0,8.7 0,7 Z"/><path vector-effect="non-scaling-stroke" transform="translate(61.20,0)" d="M0,0 V10 H2.8 A3.2,3.2 0 0 0 6,6.8 V3.2 A3.2,3.2 0 0 0 2.8,0 Z"/><path vector-effect="non-scaling-stroke" transform="translate(68.80,0)" d="M0,10 L3.2,0 L6.4,10 M1.1,6.6 H5.3"/></g>
<g transform="translate(584.40,713.10) scale(1.3514,1.5200)" fill="none" stroke="#2a2a2a" stroke-width="1.55" stroke-linecap="round" stroke-linejoin="round"><path vector-effect="non-scaling-stroke" transform="translate(0.00,0)" d="M0,0 H6 M3,0 V10"/><path vector-effect="non-scaling-stroke" transform="translate(7.60,0)" d="M5.4,0 H0 V10 H5.4 M0,5 H4.6 M1.4,-1.8 V-1.3 M4,-1.8 V-1.3"/><path vector-effect="non-scaling-stroke" transform="translate(14.60,0)" d="M0,10 V0 H6 V10"/><path vector-effect="non-scaling-stroke" transform="translate(22.20,0)" d="M0,10 C1.2,9.5 1.8,7 1.8,4 V0 H6 V10"/><path vector-effect="non-scaling-stroke" transform="translate(29.80,0)" d="M0,10 L3.2,0 L6.4,10 M1.1,6.6 H5.3"/><path vector-effect="non-scaling-stroke" transform="translate(37.80,0)" d="M6,10 V0 H2.8 A2.7,2.7 0 0 0 2.8,5.4 H6 M3,5.4 L0,10"/><path vector-effect="non-scaling-stroke" transform="translate(54.00,0)" d="M0,0 V10 H3.3 A2.6,2.5 0 0 0 3.3,5 H0 M0,5 H3 A2.4,2.5 0 0 0 3,0 H0"/><path vector-effect="non-scaling-stroke" transform="translate(61.60,0)" d="M0.5,9.5 L0.5,10"/></g></svg>
</body></html>
